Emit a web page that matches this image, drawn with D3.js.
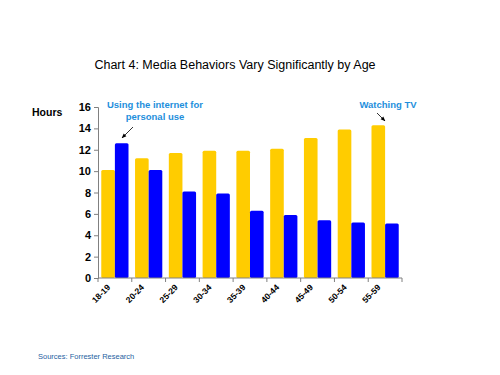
<!DOCTYPE html>
<html>
<head>
<meta charset="utf-8">
<script src="https://cdn.jsdelivr.net/npm/d3@7"></script>
<style>
  body { margin: 0; background: #fff; }
  text { font-family: "Liberation Sans", Arial, sans-serif; }
</style>
</head>
<body>
<div id="chart"></div>
<script>
var ageGroups = ["18-19", "20-24", "25-29", "30-34", "35-39", "40-44", "45-49", "50-54", "55-59"];
var tvHours = [10.1, 11.2, 11.7, 11.9, 11.9, 12.1, 13.1, 13.9, 14.3];
var internetHours = [12.6, 10.1, 8.1, 7.9, 6.3, 5.9, 5.4, 5.2, 5.1];
var yTicks = [0, 2, 4, 6, 8, 10, 12, 14, 16];

var width = 500, height = 375;
var svg = d3.select("#chart").append("svg")
    .attr("width", width)
    .attr("height", height);

var x = d3.scaleBand()
    .domain(ageGroups)
    .range([98, 402])
    .paddingInner(0)
    .paddingOuter(0);

var sub = d3.scaleBand()
    .domain(["tv", "net"])
    .range([0, x.bandwidth()])
    .paddingInner(0)
    .paddingOuter(0.24);

var y = d3.scaleLinear()
    .domain([0, 16])
    .range([278, 107]);

// title
svg.append("text")
    .attr("x", 235)
    .attr("y", 69)
    .attr("text-anchor", "middle")
    .style("font-size", "12.5px")
    .style("fill", "#000")
    .text("Chart 4: Media Behaviors Vary Significantly by Age");

// y axis
var yAxis = svg.append("g")
    .attr("transform", "translate(98,0)")
    .call(d3.axisLeft(y).tickValues(yTicks).tickSize(4).tickPadding(3));
yAxis.select(".domain").attr("stroke", "#808080");
yAxis.selectAll(".tick line").attr("stroke", "#808080");
yAxis.selectAll(".tick text")
    .style("font-size", "11px")
    .style("font-weight", "bold")
    .style("font-family", "Liberation Sans, Arial, sans-serif")
    .attr("fill", "#000");

svg.append("text")
    .attr("x", 32)
    .attr("y", 116)
    .style("font-size", "10.5px")
    .style("font-weight", "bold")
    .text("Hours");

// bars
var groups = svg.selectAll(".grp")
    .data(ageGroups)
    .enter().append("g")
    .attr("class", "grp")
    .attr("transform", function(d) { return "translate(" + x(d) + ",0)"; });

groups.append("rect")
    .attr("x", sub("tv"))
    .attr("width", sub.bandwidth())
    .attr("y", function(d, i) { return y(tvHours[i]); })
    .attr("height", function(d, i) { return y(0) - y(tvHours[i]); })
    .attr("rx", 1.5)
    .attr("fill", "#FFCC00");

groups.append("rect")
    .attr("x", sub("net"))
    .attr("width", sub.bandwidth())
    .attr("y", function(d, i) { return y(internetHours[i]); })
    .attr("height", function(d, i) { return y(0) - y(internetHours[i]); })
    .attr("rx", 1.5)
    .attr("fill", "#0000FF");

// x axis
svg.append("line")
    .attr("x1", 98).attr("x2", 402)
    .attr("y1", y(0)).attr("y2", y(0))
    .attr("stroke", "#808080");

var bounds = ageGroups.map(function(d) { return x(d); }).concat([x.range()[1]]);
svg.selectAll(".xtick")
    .data(bounds)
    .enter().append("line")
    .attr("x1", function(d) { return d; })
    .attr("x2", function(d) { return d; })
    .attr("y1", y(0))
    .attr("y2", y(0) + 4)
    .attr("stroke", "#808080");

svg.selectAll(".xlab")
    .data(ageGroups)
    .enter().append("text")
    .attr("transform", function(d) {
        return "translate(" + (x(d) + x.bandwidth() / 2 - 4) + "," + (y(0) + 10) + ") rotate(-45)";
    })
    .attr("text-anchor", "end")
    .style("font-size", "8.5px")
    .style("font-weight", "bold")
    .text(function(d) { return d; });

// annotations
var noteColor = "#1E8FDC";
svg.append("text")
    .attr("x", 155).attr("y", 108)
    .attr("text-anchor", "middle")
    .style("font-size", "9.5px")
    .style("font-weight", "bold")
    .style("fill", noteColor)
    .text("Using the internet for");
svg.append("text")
    .attr("x", 155).attr("y", 120)
    .attr("text-anchor", "middle")
    .style("font-size", "9.5px")
    .style("font-weight", "bold")
    .style("fill", noteColor)
    .text("personal use");
svg.append("text")
    .attr("x", 388).attr("y", 108)
    .attr("text-anchor", "middle")
    .style("font-size", "9.5px")
    .style("font-weight", "bold")
    .style("fill", noteColor)
    .text("Watching TV");

svg.append("defs").append("marker")
    .attr("id", "arrow")
    .attr("viewBox", "0 0 10 10")
    .attr("refX", 9).attr("refY", 5)
    .attr("markerWidth", 6).attr("markerHeight", 6)
    .attr("orient", "auto")
    .append("path")
    .attr("d", "M0,1 L10,5 L0,9 z")
    .attr("fill", "#000");

svg.append("line")
    .attr("x1", 133).attr("y1", 127)
    .attr("x2", 122).attr("y2", 138)
    .attr("stroke", "#000").attr("stroke-width", 0.8)
    .attr("marker-end", "url(#arrow)");
svg.append("line")
    .attr("x1", 377).attr("y1", 113)
    .attr("x2", 385).attr("y2", 121)
    .attr("stroke", "#000").attr("stroke-width", 0.8)
    .attr("marker-end", "url(#arrow)");

// source
svg.append("text")
    .attr("x", 38).attr("y", 359)
    .style("font-size", "7.5px")
    .style("fill", "#1F5F9F")
    .text("Sources: Forrester Research");
</script>
</body>
</html>
